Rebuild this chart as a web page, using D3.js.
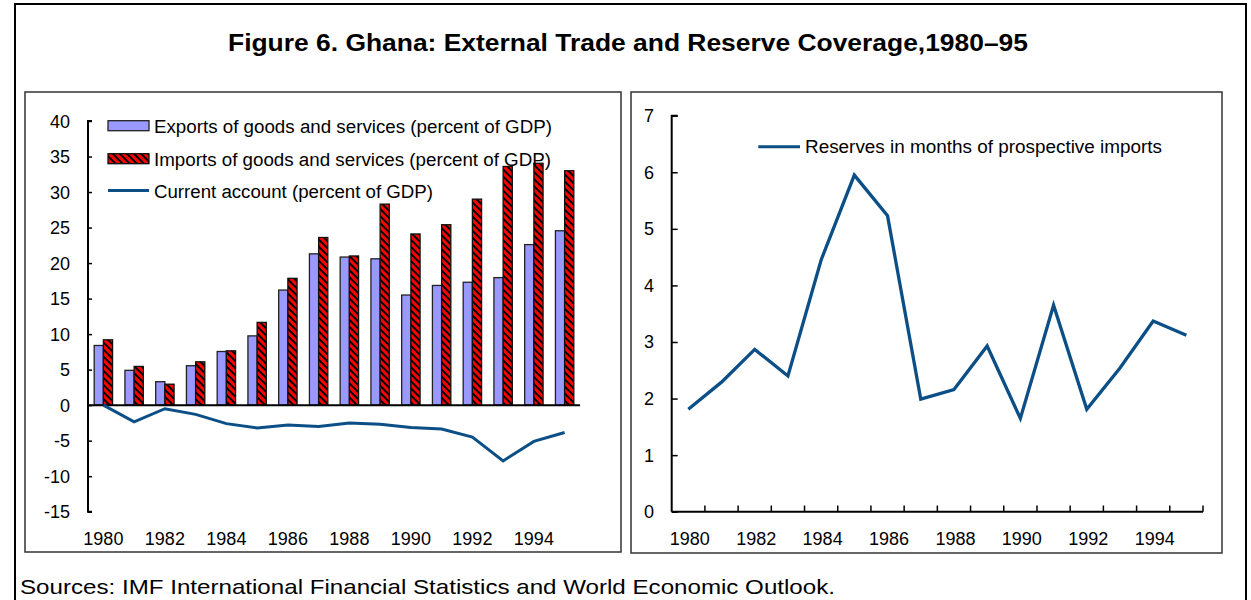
<!DOCTYPE html>
<html><head><meta charset="utf-8">
<script src="https://cdn.jsdelivr.net/npm/d3@7"></script>
<style>
body{margin:0;background:#fff;}
svg{display:block;font-family:"Liberation Sans",Arial,sans-serif;}
</style></head>
<body><svg id="c" width="1251" height="600"></svg>
<script>
const years = d3.range(1980, 1996);
const exportsGDP = [8.4,4.9,3.3,5.55,7.55,9.75,16.2,21.3,20.85,20.6,15.5,16.85,17.3,17.95,22.6,24.55];
const importsGDP = [9.2,5.45,2.95,6.1,7.65,11.65,17.85,23.6,21.0,28.3,24.1,25.4,29.0,33.6,34.05,33.0];
const currentAccount = [0,-2.35,-0.5,-1.3,-2.6,-3.2,-2.8,-3.0,-2.5,-2.7,-3.15,-3.35,-4.5,-7.85,-5.1,-3.85];
const reserves = [1.81,2.29,2.87,2.40,4.45,5.95,5.23,1.99,2.16,2.93,1.65,3.65,1.81,2.54,3.37,3.12];
const leftTicks = [40,35,30,25,20,15,10,5,0,-5,-10,-15];
const rightTicks = [0,1,2,3,4,5,6,7];
const yearLabels = [1980,1982,1984,1986,1988,1990,1992,1994];
const titleText = "Figure 6. Ghana: External Trade and Reserve Coverage,1980\u201395";
const sourceText = "Sources:  IMF International Financial Statistics and World Economic Outlook.";
const legendLeft = ["Exports of goods and services (percent of GDP)","Imports of goods and services (percent of GDP)","Current account (percent of GDP)"];
const legendRight = "Reserves in months of prospective imports";

const svg = d3.select("#c");
const lineCol = "#0b4f86";
const defs = svg.append("defs");
const pat = defs.append("pattern").attr("id","hatch").attr("patternUnits","userSpaceOnUse")
  .attr("width",5).attr("height",5).attr("patternTransform","rotate(-45)");
pat.append("rect").attr("width",5).attr("height",5).attr("fill","#ff0000");
pat.append("rect").attr("width",2).attr("height",5).attr("fill","#000");

// outer frame
svg.append("rect").attr("x",15).attr("y",4).attr("width",1231).attr("height",620)
  .attr("fill","none").attr("stroke","#000").attr("stroke-width",2);
// title
svg.append("text").attr("x",628).attr("y",51).attr("text-anchor","middle")
  .attr("font-size",23).attr("font-weight","bold").attr("textLength",800)
  .attr("lengthAdjust","spacingAndGlyphs").text(titleText);
// sources
svg.append("text").attr("x",20).attr("y",594).attr("font-size",21)
  .attr("textLength",815).attr("lengthAdjust","spacingAndGlyphs").text(sourceText);

// panels
svg.append("rect").attr("x",25).attr("y",92).attr("width",596).attr("height",460)
  .attr("fill","#fff").attr("stroke","#333").attr("stroke-width",1.5);
svg.append("rect").attr("x",631).attr("y",92).attr("width",591).attr("height",461)
  .attr("fill","#fff").attr("stroke","#333").attr("stroke-width",1.5);

// ---------- LEFT CHART ----------
const xL = d3.scaleBand().domain(years).range([88,580]);
const yL = d3.scaleLinear().domain([-15,40]).range([511.7,121]);
const bw = 9.2;
const gL = svg.append("g");
gL.selectAll("rect.exp").data(years).join("rect").attr("class","exp")
  .attr("x",d=>xL(d)+xL.bandwidth()/2-bw).attr("width",bw)
  .attr("y",(d,i)=>yL(exportsGDP[i])).attr("height",(d,i)=>yL(0)-yL(exportsGDP[i]))
  .attr("fill","#9999ff").attr("stroke","#222").attr("stroke-width",1.3);
gL.selectAll("rect.imp").data(years).join("rect").attr("class","imp")
  .attr("x",d=>xL(d)+xL.bandwidth()/2).attr("width",bw)
  .attr("y",(d,i)=>yL(importsGDP[i])).attr("height",(d,i)=>yL(0)-yL(importsGDP[i]))
  .attr("fill","url(#hatch)").attr("stroke","#111").attr("stroke-width",1.3);
// zero axis
gL.append("line").attr("x1",88).attr("x2",580).attr("y1",yL(0)).attr("y2",yL(0))
  .attr("stroke","#000").attr("stroke-width",2);
// current account line
gL.append("path").datum(currentAccount)
  .attr("d",d3.line().x((d,i)=>xL(years[i])+xL.bandwidth()/2).y(d=>yL(d)))
  .attr("fill","none").attr("stroke",lineCol).attr("stroke-width",3);
// y axis
const axL = gL.append("g").attr("transform","translate(88,0)")
  .call(d3.axisRight(yL).tickValues(leftTicks).tickSize(4).tickFormat(""));
axL.select(".domain").attr("stroke-width",2).attr("d","M4,121H0V511.7H4");
axL.selectAll(".tick line").attr("stroke-width",1.5);
gL.selectAll("text.yl").data(leftTicks).join("text").attr("class","yl")
  .attr("x",70).attr("y",d=>yL(d)+6.5).attr("text-anchor","end").attr("font-size",18).text(d=>d);
gL.selectAll("text.xl").data(yearLabels).join("text").attr("class","xl")
  .attr("x",d=>xL(d)+xL.bandwidth()/2).attr("y",544.5).attr("text-anchor","middle")
  .attr("font-size",18).text(d=>d);
// legend
const lgRows = [125.7,158.7,190.5];
const lgW = [398,397,279];
gL.append("rect").attr("x",108).attr("y",lgRows[0]-5).attr("width",41).attr("height",10)
  .attr("fill","#9999ff").attr("stroke","#222").attr("stroke-width",1.3);
gL.append("rect").attr("x",108).attr("y",lgRows[1]-5).attr("width",41).attr("height",10)
  .attr("fill","url(#hatch)").attr("stroke","#111").attr("stroke-width",1.3);
gL.append("line").attr("x1",108).attr("x2",149).attr("y1",lgRows[2]).attr("y2",lgRows[2])
  .attr("stroke",lineCol).attr("stroke-width",3);
gL.selectAll("text.lg").data(legendLeft).join("text").attr("class","lg")
  .attr("x",154).attr("y",(d,i)=>lgRows[i]+7).attr("font-size",18)
  .attr("textLength",(d,i)=>lgW[i]).attr("lengthAdjust","spacingAndGlyphs").text(d=>d);

// ---------- RIGHT CHART ----------
const xR = d3.scaleBand().domain(years).range([671.7,1203]);
const yR = d3.scaleLinear().domain([0,7]).range([511.7,115.7]);
const gR = svg.append("g");
gR.append("path").datum(reserves)
  .attr("d",d3.line().x((d,i)=>xR(years[i])+xR.bandwidth()/2).y(d=>yR(d)))
  .attr("fill","none").attr("stroke",lineCol).attr("stroke-width",3.3);
const axRy = gR.append("g").attr("transform","translate(671.7,0)")
  .call(d3.axisRight(yR).tickValues(rightTicks).tickSize(6).tickFormat(""));
axRy.select(".domain").attr("stroke-width",2).attr("d","M6,115.7H0V511.7");
axRy.selectAll(".tick line").attr("stroke-width",1.5);
// x axis with ticks at band boundaries
const bounds = years.slice(1).map(d=>xR(d)).concat([1203]);
gR.append("line").attr("x1",671.7).attr("x2",1203).attr("y1",511.7).attr("y2",511.7)
  .attr("stroke","#000").attr("stroke-width",2);
gR.selectAll("line.xt").data(bounds).join("line").attr("class","xt")
  .attr("x1",d=>d).attr("x2",d=>d).attr("y1",511.7).attr("y2",505.5)
  .attr("stroke","#000").attr("stroke-width",1.5);
gR.selectAll("text.yr").data(rightTicks).join("text").attr("class","yr")
  .attr("x",654).attr("y",d=>yR(d)+6.5).attr("text-anchor","end").attr("font-size",18).text(d=>d);
gR.selectAll("text.xr").data(yearLabels).join("text").attr("class","xr")
  .attr("x",d=>xR(d)+xR.bandwidth()/2+1.5).attr("y",544.5).attr("text-anchor","middle")
  .attr("font-size",18).text(d=>d);
gR.append("line").attr("x1",758.3).attr("x2",800).attr("y1",146.7).attr("y2",146.7)
  .attr("stroke",lineCol).attr("stroke-width",3);
gR.append("text").attr("x",805).attr("y",152.7).attr("font-size",18)
  .attr("textLength",357).attr("lengthAdjust","spacingAndGlyphs").text(legendRight);
</script></body></html>
